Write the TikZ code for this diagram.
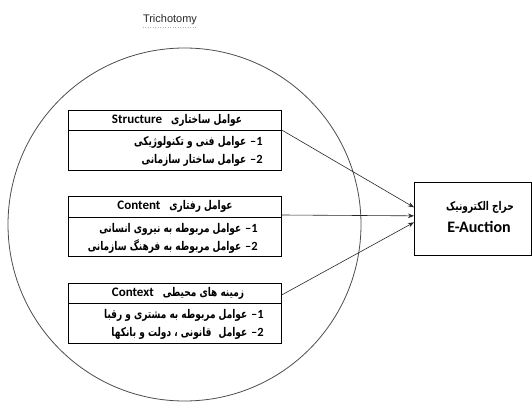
\documentclass[tikz,border=0pt]{standalone}
\usepackage{fontspec}
\setmainfont{Carlito}
\newfontfamily\arabicfont[Script=Arabic, FakeStretch=0.75]{DejaVu Sans}
\newfontfamily\trifont{Liberation Sans}
\TeXXeTstate=1
\usetikzlibrary{arrows.meta}
\newcommand{\fa}[1]{{\arabicfont\bfseries\fontsize{12}{14}\selectfont\beginR #1\endR}}
\tikzset{
  box/.style={draw=black, line width=0.7pt, minimum width=213pt, minimum height=60pt, anchor=north west, inner sep=0pt},
  divline/.style={draw=black, line width=0.7pt},
  ttl/.style={inner sep=0pt, font=\fontsize{13}{15}\selectfont},
  item/.style={anchor=east, inner sep=0pt, font=\fontsize{12.5}{14}\selectfont},
  conn/.style={draw=black!85, line width=0.6pt, -{Stealth[length=6pt,width=4.5pt]}},
}
\begin{document}
\begin{tikzpicture}[x=1pt,y=-1pt]
\useasboundingbox (0,0) rectangle (532,403);
% title
\node[inner sep=0pt, font=\trifont\fontsize{11}{13}\selectfont, text=black!85] (t) at (170,20) {Trichotomy};
\draw[gray!60, dotted, line width=0.5pt] ([yshift=-1.5pt]t.south west) -- ([yshift=-1.5pt]t.south east);
% circle
\draw[black!70, line width=0.8pt] (184.5,224.5) circle [radius=176.5pt];
% Structure box
\node[box, fill=white] (s) at (68,110) {};
\draw[divline] ([yshift=-20pt]s.north west) -- ([yshift=-20pt]s.north east);
\node[ttl] (st) at (177,120) {\textbf{Structure}\hspace{9pt}\fa{عوامل ساختاری}};
\node[item] (s1) at (263,142) {\fa{عوامل فنی و تکنولوژیکی}\hspace{4pt}\textbf{–1}};
\node[item] (s2) at (263,160) {\fa{عوامل ساختار سازمانی}\hspace{4pt}\textbf{–2}};
% Content box
\node[box, fill=white] (c) at (68,196) {};
\draw[divline] ([yshift=-21pt]c.north west) -- ([yshift=-21pt]c.north east);
\node[ttl] (ct) at (175,206.5) {\textbf{Content}\hspace{9pt}\fa{عوامل رفتاری}};
\node[item] (c1) at (258,229) {\fa{عوامل مربوطه به نیروی انسانی}\hspace{4pt}\textbf{–1}};
\node[item] (c2) at (258,247) {\fa{عوامل مربوطه به فرهنگ سازمانی}\hspace{4pt}\textbf{–2}};
% Context box
\node[box, fill=white] (x) at (68,283) {};
\draw[divline] ([yshift=-20pt]x.north west) -- ([yshift=-20pt]x.north east);
\node[ttl] (xt) at (178,293) {\textbf{Context}\hspace{9pt}\fa{زمینه های محیطی}};
\node[item] (x1) at (264,315) {\fa{عوامل مربوطه به مشتری و رقبا}\hspace{4pt}\textbf{–1}};
\node[item] (x2) at (264,333) {\fa{عوامل\hspace{4pt} قانونی ، دولت و بانکها}\hspace{4pt}\textbf{–2}};
% E-Auction box
\node[draw=black, line width=0.7pt, anchor=north west, minimum width=117pt, minimum height=73pt, inner sep=0pt] (e) at (414,182) {};
\node[inner sep=0pt] (e1) at (480,207) {\fa{حراج الکترونیک}};
\node[inner sep=0pt, font=\bfseries\fontsize{16}{18}\selectfont] (e2) at (479,227) {E-Auction};
% connectors
\draw[conn] ([yshift=-20pt]s.north east) -- ([yshift=11.5pt]e.west);
\draw[conn] ([yshift=-19pt]c.north east) -- ([yshift=3pt]e.west);
\draw[conn] ([yshift=-12pt]x.north east) -- ([yshift=-3.5pt]e.west);
\end{tikzpicture}
\end{document}
